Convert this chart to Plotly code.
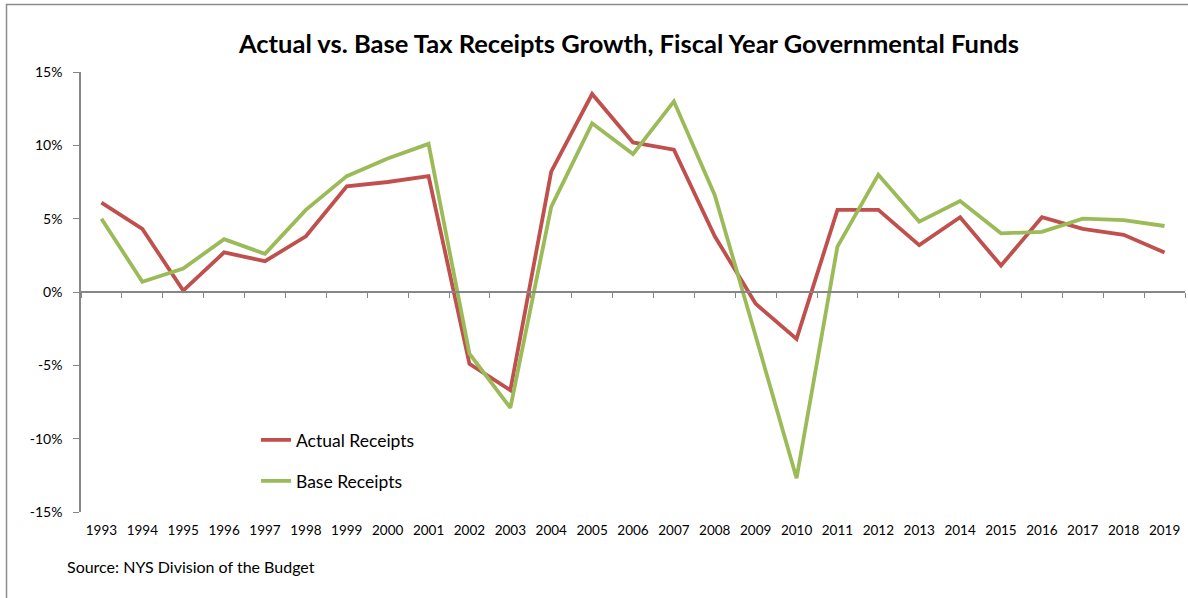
import plotly.graph_objects as go

years = [str(y) for y in range(1993, 2020)]
actual = [6.1, 4.3, 0.1, 2.7, 2.1, 3.8, 7.2, 7.5, 7.9, -4.9, -6.7, 8.2, 13.5, 10.2, 9.7,
          3.8, -0.8, -3.2, 5.6, 5.6, 3.2, 5.1, 1.8, 5.1, 4.3, 3.9, 2.7]
base = [5.0, 0.7, 1.6, 3.6, 2.6, 5.6, 7.9, 9.1, 10.1, -4.2, -7.9, 5.8, 11.5, 9.4, 13.0,
        6.6, -3.0, -12.7, 3.1, 8.0, 4.8, 6.2, 4.0, 4.1, 5.0, 4.9, 4.5]
y_ticks = [-15, -10, -5, 0, 5, 10, 15]
y_tick_text = ["-15%", "-10%", "-5%", "0%", "5%", "10%", "15%"]

RED = "#C0504D"
GREEN = "#9BBB59"
AX = "#868686"
FONT = "Lato"

W, H = 1188, 598
L, T = 81, 72
PR, PB = 1185, 512
R, B = W - PR, H - PB
pw, ph = PR - L, PB - T


def px(x):
    return (x - L) / pw


def py(y):
    return (PB - y) / ph


idx = list(range(len(years)))
xr = [-0.5, len(years) - 0.5]
yr = [y_ticks[0], y_ticks[-1]]
bounds = [i - 0.5 for i in range(len(years) + 1)]

fig = go.Figure()
fig.add_trace(go.Scatter(x=idx, y=actual, mode="lines", name="Actual Receipts",
                         line=dict(color=RED, width=3.8), legend="legend"))
fig.add_trace(go.Scatter(x=idx, y=base, mode="lines", name="Base Receipts",
                         line=dict(color=GREEN, width=3.8), legend="legend2"))
# carrier for the zero-crossing category axis
fig.add_trace(go.Scatter(x=[xr[0], xr[1]], y=[0, 0], mode="lines", xaxis="x2",
                         line=dict(color="rgba(0,0,0,0)", width=0), showlegend=False,
                         hoverinfo="skip"))

zero_pos = (0 - yr[0]) / (yr[1] - yr[0])

fig.update_layout(
    width=W, height=H,
    margin=dict(l=L, r=R, t=T, b=B, autoexpand=False),
    paper_bgcolor="white", plot_bgcolor="white",
    font=dict(family=FONT, size=14, color="#000000"),
    title=dict(text="<b>Actual vs. Base Tax Receipts Growth, Fiscal Year Governmental Funds</b>",
               font=dict(family=FONT, size=25.5, color="#000000"),
               x=629 / W, xanchor="center", y=1 - 44 / H, yanchor="middle"),
    xaxis=dict(range=xr, tickvals=idx, ticktext=years, showline=False, ticks="",
               showgrid=False, zeroline=False, ticklabelstandoff=8,
               tickfont=dict(family=FONT, size=13.5, color="#000000")),
    xaxis2=dict(range=xr, overlaying="x", anchor="free", position=zero_pos,
                side="bottom", showline=True, linecolor=AX, linewidth=2,
                tickvals=bounds, ticks="outside", ticklen=5, tickcolor=AX, tickwidth=1,
                showticklabels=False, showgrid=False, zeroline=False),
    yaxis=dict(range=yr, tickvals=y_ticks, ticktext=y_tick_text, showline=True, linecolor=AX,
               linewidth=1.5, ticks="outside", ticklen=6, tickcolor=AX, tickwidth=1,
               showgrid=False, zeroline=False, ticklabelstandoff=8,
               tickfont=dict(family=FONT, size=14, color="#000000")),
    legend=dict(x=px(256), y=py(440), xanchor="left", yanchor="middle",
                bgcolor="rgba(0,0,0,0)", font=dict(family=FONT, size=17.5, color="#000000"),
                itemwidth=30),
    legend2=dict(x=px(256), y=py(481), xanchor="left", yanchor="middle",
                 bgcolor="rgba(0,0,0,0)", font=dict(family=FONT, size=17.5, color="#000000"),
                 itemwidth=30),
    showlegend=True,
    annotations=[dict(text="Source: NYS Division of the Budget", xref="paper", yref="paper",
                      x=px(65), y=py(566), xanchor="left", yanchor="middle",
                      showarrow=False, font=dict(family=FONT, size=16, color="#000000"))],
    shapes=[dict(type="rect", xref="paper", yref="paper",
                 x0=px(6.5), x1=px(W + 20),
                 y0=py(H + 20), y1=py(4.5),
                 line=dict(color="#8C8C8C", width=1.5), layer="below")],
)

fig.write_html("out.html", config={"displayModeBar": False},
               post_script="document.body.style.margin='0';document.body.style.overflow='hidden';")
